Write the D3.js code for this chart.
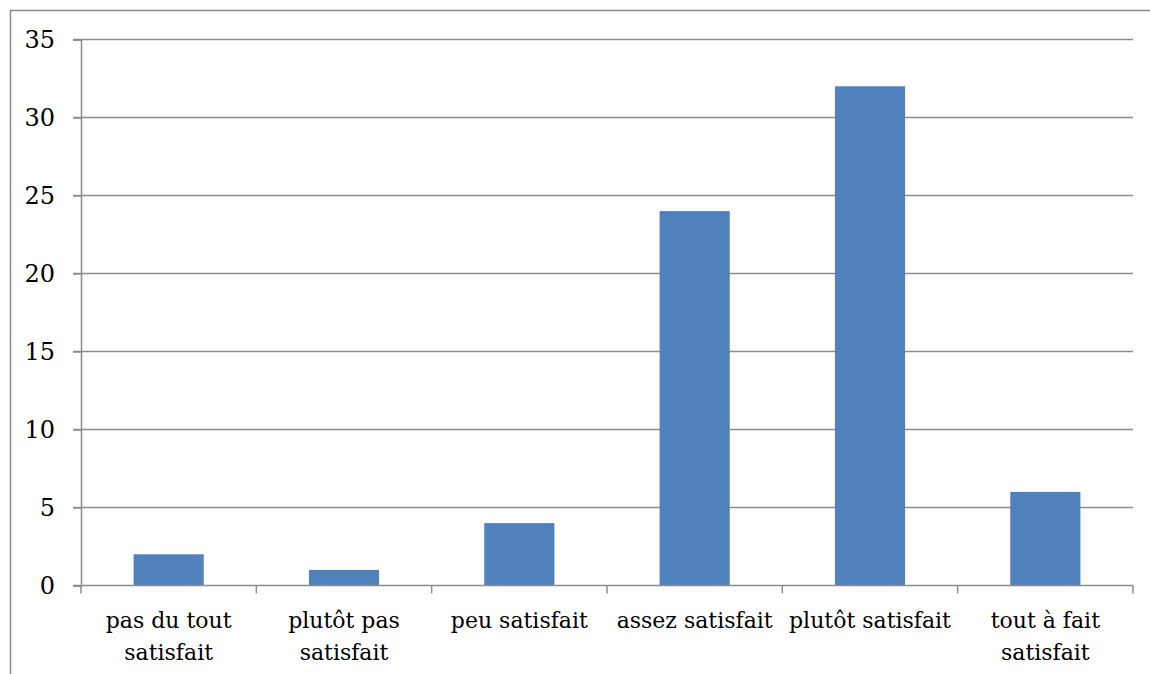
<!DOCTYPE html>
<html>
<head>
<meta charset="utf-8">
<script src="https://cdn.jsdelivr.net/npm/d3@7"></script>
<style>
  html, body { margin: 0; padding: 0; background: #fff; }
  svg { display: block; }
  text { font-family: "DejaVu Serif", "Liberation Serif", serif; fill: #000; }
</style>
</head>
<body>
<svg id="chart" width="1150" height="674"></svg>
<script>
// Satisfaction survey: number of answers per level
const categories = [
  ["pas du tout", "satisfait"],
  ["plutôt pas", "satisfait"],
  ["peu satisfait"],
  ["assez satisfait"],
  ["plutôt satisfait"],
  ["tout à fait", "satisfait"]
];
const counts = [2, 1, 4, 24, 32, 6];
const yTicks = [0, 5, 10, 15, 20, 25, 30, 35];

const svg = d3.select("#chart");
const W = 1150, H = 674;
const plot = { left: 81, right: 1133, top: 39.5, bottom: 585.5 };
const gridColor = "#8c8c8c";
const fontFamily = '"DejaVu Serif", "Liberation Serif", serif';

// Outer frame (top and left edges)
svg.append("path")
  .attr("d", `M10.5,${H} V10.5 H${W}`)
  .attr("fill", "none")
  .attr("stroke", gridColor)
  .attr("stroke-width", 1.5);

const x = d3.scaleBand()
  .domain(d3.range(categories.length))
  .range([plot.left, plot.right])
  .paddingInner(0).paddingOuter(0);

const y = d3.scaleLinear()
  .domain([0, 35])
  .range([plot.bottom, plot.top]);

// Horizontal gridlines
svg.append("g")
  .selectAll("line")
  .data(yTicks.filter(d => d > 0))
  .join("line")
  .attr("x1", plot.left - 8).attr("x2", plot.right)
  .attr("y1", d => y(d)).attr("y2", d => y(d))
  .attr("stroke", gridColor).attr("stroke-width", 1.5);

// Bars
const barW = x.bandwidth() * 0.4;
svg.append("g")
  .selectAll("rect")
  .data(counts)
  .join("rect")
  .attr("x", (d, i) => x(i) + (x.bandwidth() - barW) / 2)
  .attr("width", barW)
  .attr("y", d => y(d))
  .attr("height", d => y(0) - y(d))
  .attr("fill", "#4f81bd");

// Y axis
const yAxis = svg.append("g")
  .attr("transform", `translate(${plot.left},0)`)
  .call(d3.axisLeft(y).tickValues(yTicks).tickSize(8).tickPadding(18).tickFormat(d3.format("d")));
yAxis.select(".domain").attr("stroke", gridColor).attr("stroke-width", 1.5);
yAxis.selectAll(".tick line").attr("stroke", gridColor).attr("stroke-width", 1.5);
yAxis.selectAll(".tick text")
  .style("font-family", fontFamily)
  .style("font-size", "24px").attr("fill", "#000");

// X axis baseline and category separators
const xg = svg.append("g");
xg.append("line")
  .attr("x1", plot.left - 8).attr("x2", plot.right)
  .attr("y1", y(0)).attr("y2", y(0))
  .attr("stroke", gridColor).attr("stroke-width", 1.5);
xg.selectAll("line.sep")
  .data(d3.range(categories.length + 1))
  .join("line").attr("class", "sep")
  .attr("x1", i => i < categories.length ? x(i) : plot.right)
  .attr("x2", i => i < categories.length ? x(i) : plot.right)
  .attr("y1", y(0)).attr("y2", y(0) + 8)
  .attr("stroke", gridColor).attr("stroke-width", 1.5);

// Category labels
const labels = svg.append("g")
  .selectAll("text")
  .data(categories)
  .join("text")
  .attr("text-anchor", "middle")
  .style("font-family", fontFamily)
  .style("font-size", "22px")
  .attr("x", (d, i) => x(i) + x.bandwidth() / 2)
  .attr("y", 628);
labels.selectAll("tspan")
  .data(d => d)
  .join("tspan")
  .attr("x", function () { return this.parentNode.getAttribute("x"); })
  .attr("dy", (d, i) => i === 0 ? 0 : 32)
  .text(d => d);
</script>
</body>
</html>
